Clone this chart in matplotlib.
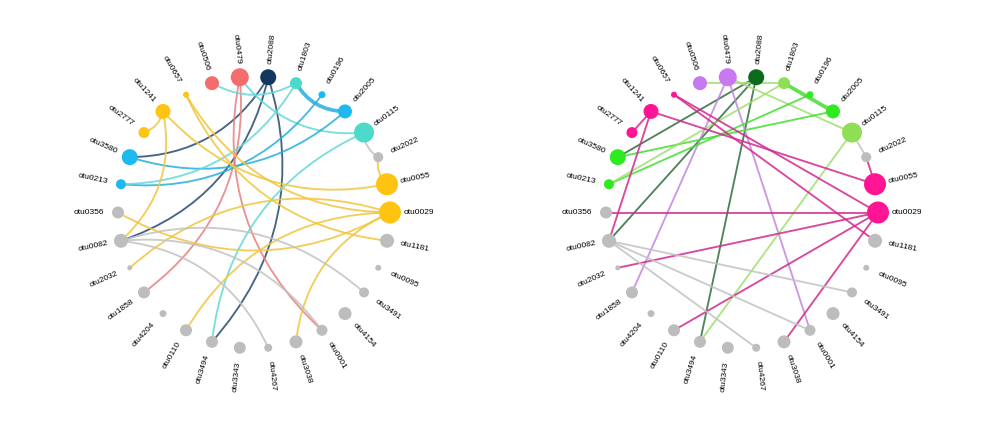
import numpy as np
import matplotlib.pyplot as plt
from matplotlib.path import Path
from matplotlib.patches import PathPatch

plt.rcParams['font.family'] = ['Liberation Sans', 'DejaVu Sans']

# nodes clockwise from the top of the circle
nodes = ['otu2088', 'otu1803', 'otu0196', 'otu2005', 'otu0115', 'otu2022', 'otu0055',
         'otu0029', 'otu1181', 'otu0095', 'otu3491', 'otu4154', 'otu0001', 'otu3038',
         'otu4267', 'otu3343', 'otu3494', 'otu0110', 'otu4204', 'otu1858', 'otu2032',
         'otu0082', 'otu0356', 'otu0213', 'otu3580', 'otu2777', 'otu1241', 'otu0657',
         'otu0506', 'otu0479']
module = ['M5', 'M3', 'M2', 'M2', 'M3', 'none', 'M1',
          'M1', 'none', 'none', 'none', 'none', 'none', 'none',
          'none', 'none', 'none', 'none', 'none', 'none', 'none',
          'none', 'none', 'M2', 'M2', 'M1', 'M1', 'M1',
          'M4', 'M4']
node_weight = [8, 6, 3.5, 7, 10, 5, 11,
               11, 7, 3, 5, 6.5, 5.5, 6.5,
               4, 6, 6, 6, 3.5, 6, 2.5,
               7, 6, 5, 8, 5.5, 7.5, 3,
               7, 9]

edge_from = ['otu2088', 'otu2088', 'otu2088', 'otu0479', 'otu0479', 'otu0506', 'otu1803',
             'otu0479', 'otu2005', 'otu0196', 'otu1803', 'otu0115', 'otu0115', 'otu2022',
             'otu1241', 'otu1241', 'otu1241', 'otu0657', 'otu0657', 'otu0029', 'otu0029',
             'otu0029', 'otu0029', 'otu0082', 'otu0082', 'otu0082']
edge_to = ['otu3580', 'otu0082', 'otu3494', 'otu1858', 'otu0001', 'otu1803', 'otu2005',
           'otu0115', 'otu3580', 'otu0213', 'otu0213', 'otu3494', 'otu2022', 'otu0055',
           'otu2777', 'otu0082', 'otu0055', 'otu0029', 'otu1181', 'otu0356', 'otu2032',
           'otu0110', 'otu3038', 'otu3491', 'otu0001', 'otu4267']
edge_module = ['M5', 'M5', 'M5', 'M4', 'M4', 'M3', 'M2',
               'M3', 'M2', 'M2', 'M3', 'M3', 'none', 'M1',
               'M1', 'M1', 'M1', 'M1', 'M1', 'M1', 'M1',
               'M1', 'M1', 'none', 'none', 'none']
edge_weight = [1, 1, 1, 1, 1, 1, 2,
               1, 1, 1, 1, 1, 1, 1,
               1, 1, 1, 1, 1, 1, 1,
               1, 1, 1, 1, 1]

left_node_col = {'M1': '#FFC312', 'M2': '#1DB9EF', 'M3': '#4CDACB', 'M4': '#F36D6D',
                 'M5': '#13385F', 'none': '#BDBDBD'}
left_edge_col = {'M1': '#F2C53C', 'M2': '#27AEDD', 'M3': '#62D9D6', 'M4': '#E8807F',
                 'M5': '#264A6E', 'none': '#C2C2C2'}
right_node_col = {'M1': '#FF1493', 'M2': '#2EEA1E', 'M3': '#8EDF55', 'M4': '#C878F0',
                  'M5': '#0B6A1C', 'none': '#BDBDBD'}
right_edge_col = {'M1': '#D2288E', 'M2': '#44DD33', 'M3': '#A0DE72', 'M4': '#C286E2',
                  'M5': '#2F6F3E', 'none': '#C2C2C2'}

n = len(nodes)
ang = np.deg2rad(90 - 360 / n * (np.arange(n) + 0.5))
px = np.cos(ang)
py = np.sin(ang)
idx = {name: i for i, name in enumerate(nodes)}
R_PX = 136.0  # circle radius in pixels


def draw_net(ax, node_col, edge_col, curved):
    for a, b, m, w in zip(edge_from, edge_to, edge_module, edge_weight):
        i, j = idx[a], idx[b]
        p0 = np.array([px[i], py[i]])
        p2 = np.array([px[j], py[j]])
        if curved:
            d = p2 - p0
            mid = (p0 + p2) / 2
            perp = np.array([-d[1], d[0]])
            if np.dot(perp, -mid) < -1e-3:
                perp = -perp
            ctrl = mid + 0.28 * perp
            path = Path([p0, ctrl, p2], [Path.MOVETO, Path.CURVE3, Path.CURVE3])
            ax.add_patch(PathPatch(path, fc='none', ec=edge_col[m], lw=1.35 * w,
                                   alpha=0.85, zorder=1))
        else:
            ax.plot([p0[0], p2[0]], [p0[1], p2[1]], color=edge_col[m], lw=1.35 * w,
                    alpha=0.85, zorder=1, solid_capstyle='round')
    sizes = [(2 * r * 0.72) ** 2 for r in node_weight]
    ax.scatter(px, py, s=sizes, c=[node_col[m] for m in module], zorder=3,
               linewidths=0)
    for i, name in enumerate(nodes):
        deg = np.rad2deg(ang[i])
        lx, ly = 1.10 * px[i], 1.10 * py[i]
        if px[i] >= 0:
            ax.text(lx, ly, name, rotation=deg, rotation_mode='anchor', ha='left',
                    va='center', fontsize=6)
        else:
            ax.text(lx, ly, name, rotation=deg + 180, rotation_mode='anchor',
                    ha='right', va='center', fontsize=6)
    lim = 212.5 / R_PX
    ax.set_xlim(-lim, lim)
    ax.set_ylim(-lim, lim)
    ax.axis('off')


fig = plt.figure(figsize=(9.96, 4.25), dpi=100)
w = 425 / 996
ax1 = fig.add_axes([(254 - 212.5) / 996, 0, w, 1])
ax2 = fig.add_axes([(742 - 212.5) / 996, 0, w, 1])
draw_net(ax1, left_node_col, left_edge_col, curved=True)
draw_net(ax2, right_node_col, right_edge_col, curved=False)

fig.savefig('out.png', dpi=100, facecolor='white')
